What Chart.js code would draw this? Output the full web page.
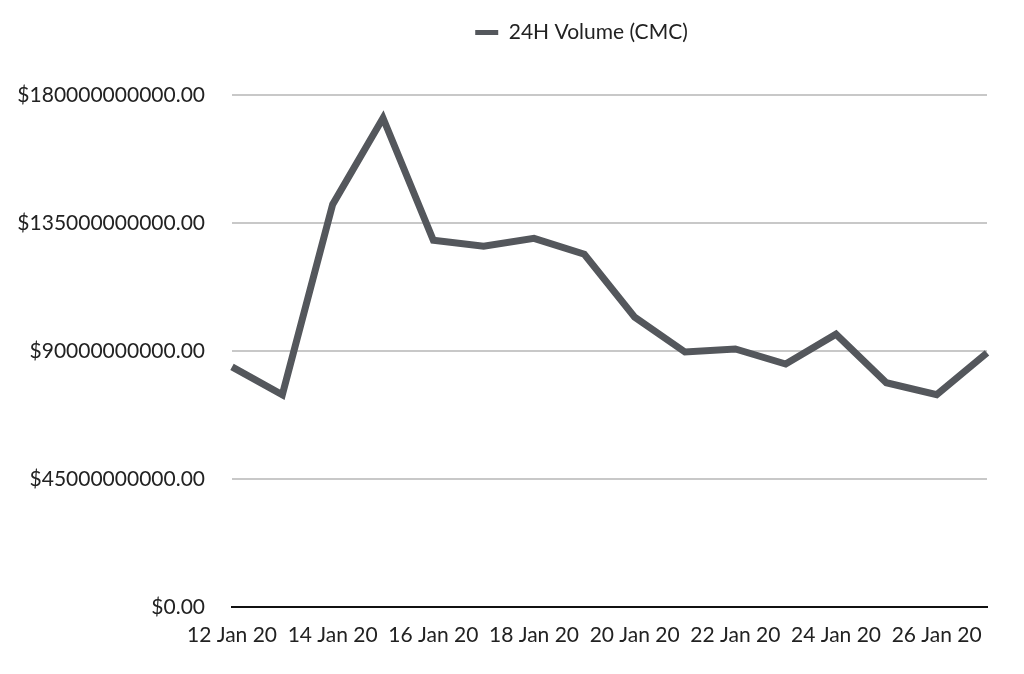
<!DOCTYPE html>
<html>
<head>
<meta charset="utf-8">
<script src="https://cdn.jsdelivr.net/npm/chart.js@4/dist/chart.umd.min.js"></script>
<style>
  html, body { margin: 0; padding: 0; background: #fff; }
  #wrap { width: 1024px; height: 674px; }
</style>
</head>
<body>
<div id="wrap"><canvas id="myChart" width="1024" height="674"></canvas></div>
<script>
// data
const dayLabels = ["12 Jan 20", "13 Jan 20", "14 Jan 20", "15 Jan 20", "16 Jan 20", "17 Jan 20",
  "18 Jan 20", "19 Jan 20", "20 Jan 20", "21 Jan 20", "22 Jan 20", "23 Jan 20",
  "24 Jan 20", "25 Jan 20", "26 Jan 20", "27 Jan 20"];
const volumeCMC = [84.4e9, 74.6e9, 141.5e9, 171.9e9, 128.9e9, 126.8e9, 129.6e9, 124.0e9,
  101.9e9, 89.6e9, 90.7e9, 85.4e9, 95.9e9, 78.8e9, 74.6e9, 89.3e9];
const yTicks = [0, 45e9, 90e9, 135e9, 180e9];

Chart.defaults.font.family = "Lato, 'Noto Sans', sans-serif";
Chart.defaults.font.size = 21;
Chart.defaults.color = "#222";

// extra room under the legend, and legend nudged right over the plot
const legendTweak = {
  id: "legendTweak",
  beforeInit(chart) {
    const lg = chart.legend;
    const origFit = lg.fit;
    const origDraw = lg.draw;
    lg.fit = function () {
      origFit.call(lg);
      lg.height += 42;
    };
    lg.draw = function () {
      const c = chart.ctx;
      c.save();
      c.translate(88, 0);
      origDraw.apply(lg, arguments);
      c.restore();
    };
  },
};

const ctx = document.getElementById("myChart").getContext("2d");

new Chart(ctx, {
  type: "line",
  data: {
    labels: dayLabels,
    datasets: [{
      label: "24H Volume (CMC)",
      data: volumeCMC,
      borderColor: "#54575c",
      backgroundColor: "#54575c",
      borderWidth: 7,
      pointRadius: 0,
      tension: 0,
      fill: false,
    }],
  },
  options: {
    responsive: false,
    animation: false,
    layout: { padding: { left: 0, right: 37, top: 12, bottom: 18 } },
    plugins: {
      legend: {
        position: "top",
        labels: {
          usePointStyle: true,
          pointStyle: "line",
          pointStyleWidth: 23,
          padding: 10,
          color: "#222",
          generateLabels: function (chart) {
            const items = Chart.defaults.plugins.legend.labels.generateLabels(chart);
            items.forEach(it => { it.lineWidth = 5; });
            return items;
          },
        },
      },
      tooltip: { enabled: false },
    },
    scales: {
      x: {
        offset: false,
        grid: { display: false },
        border: { display: true, color: "#111", width: 2 },
        ticks: {
          autoSkip: false,
          maxRotation: 0,
          padding: 8,
          callback: function (v, i) {
            return i % 2 === 0 ? dayLabels[i] : "";
          },
        },
      },
      y: {
        min: 0,
        max: 180e9,
        afterBuildTicks: function (axis) {
          axis.ticks = yTicks.map(v => ({ value: v }));
        },
        afterFit: function (axis) {
          axis.width = 232;
        },
        grid: { color: "#c8c8c8", lineWidth: 2, drawTicks: false },
        border: { display: false },
        ticks: {
          padding: 27,
          callback: function (v) {
            return "$" + Number(v).toFixed(2);
          },
        },
      },
    },
  },
  plugins: [legendTweak],
});
</script>
</body>
</html>
